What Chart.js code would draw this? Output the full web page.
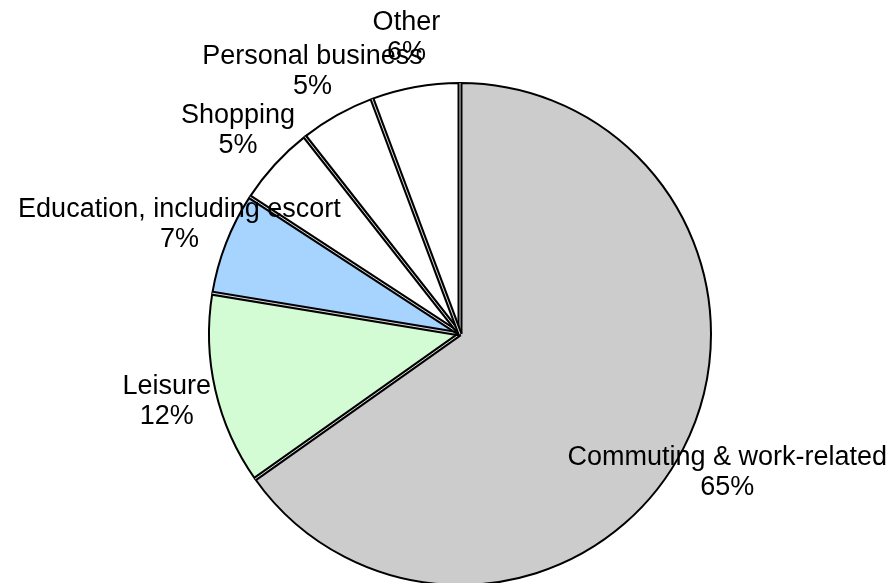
<!DOCTYPE html>
<html>
<head>
<meta charset="utf-8">
<script src="https://cdn.jsdelivr.net/npm/chart.js@4/dist/chart.umd.min.js"></script>
<style>
  html, body { margin: 0; padding: 0; background: #fff; overflow: hidden; }
  #wrap { width: 892px; height: 583px; overflow: hidden; }
</style>
</head>
<body>
<div id="wrap"><canvas id="pie" width="892" height="620"></canvas></div>
<script>
// ── data ──
const categories = ['Commuting & work-related', 'Leisure', 'Education, including escort', 'Shopping', 'Personal business', 'Other'];
const shares     = [65.2, 12.4, 6.6, 5.2, 4.9, 5.7];
const colors     = ['#CCCCCC', '#D4FCD4', '#A6D4FF', '#FFFFFF', '#FFFFFF', '#FFFFFF'];

// ── double black edge between slices (Excel-style) ──
const doubleEdges = {
  id: 'doubleEdges',
  afterDatasetsDraw(chart) {
    const ctx = chart.ctx;
    const meta = chart.getDatasetMeta(0);
    ctx.save();
    ctx.lineCap = 'butt';
    meta.data.forEach(arc => {
      const p = arc.getProps(['x', 'y', 'startAngle', 'outerRadius'], true);
      const ex = p.x + Math.cos(p.startAngle) * p.outerRadius;
      const ey = p.y + Math.sin(p.startAngle) * p.outerRadius;
      ctx.beginPath();
      ctx.moveTo(p.x, p.y);
      ctx.lineTo(ex, ey);
      ctx.strokeStyle = '#000';
      ctx.lineWidth = 5;
      ctx.stroke();
      ctx.strokeStyle = '#ddd';
      ctx.lineWidth = 1;
      ctx.stroke();
    });
    ctx.restore();
  }
};

// ── labels outside each slice: name + percent ──
const outsideLabels = {
  id: 'outsideLabels',
  afterDatasetsDraw(chart) {
    const ctx = chart.ctx;
    const meta = chart.getDatasetMeta(0);
    const data = chart.data.datasets[0].data;
    const total = data.reduce((s, v) => s + v, 0);
    ctx.save();
    ctx.fillStyle = '#000';
    ctx.font = '27px "Liberation Sans", Arial, sans-serif';
    ctx.textAlign = 'center';
    ctx.textBaseline = 'middle';
    meta.data.forEach((arc, i) => {
      const p = arc.getProps(['x', 'y', 'startAngle', 'endAngle', 'outerRadius'], true);
      const mid = (p.startAngle + p.endAngle) / 2;
      const r = p.outerRadius + 50;
      const cx = p.x + Math.cos(mid) * r;
      const cy = p.y + Math.sin(mid) * r;
      ctx.fillText(chart.data.labels[i], cx, cy - 15);
      ctx.fillText(Math.round(data[i] / total * 100) + '%', cx, cy + 15);
    });
    ctx.restore();
  }
};

new Chart(document.getElementById('pie'), {
  type: 'pie',
  data: {
    labels: categories,
    datasets: [{
      data: shares,
      backgroundColor: colors,
      borderColor: '#000',
      borderWidth: 2,
    }]
  },
  options: {
    responsive: false,
    animation: false,
    layout: { padding: { left: 208, right: 180, top: 82, bottom: 34 } },
    plugins: {
      legend: { display: false },
      tooltip: { enabled: false }
    }
  },
  plugins: [doubleEdges, outsideLabels]
});
</script>
</body>
</html>
